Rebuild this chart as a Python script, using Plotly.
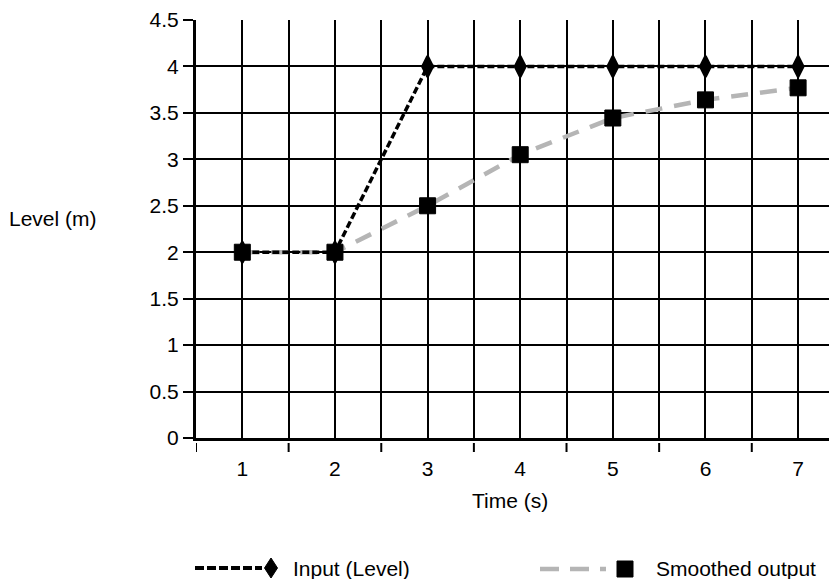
import plotly.graph_objects as go

time_s = [1, 2, 3, 4, 5, 6, 7]
input_level = [2, 2, 4, 4, 4, 4, 4]
smoothed_output = [2, 2, 2.5, 3.05, 3.445, 3.64, 3.77]
y_ticks = [0, 0.5, 1, 1.5, 2, 2.5, 3, 3.5, 4, 4.5]
y_tick_labels = ["0", "0.5", "1", "1.5", "2", "2.5", "3", "3.5", "4", "4.5"]
boundaries = [t - 0.5 for t in time_s]

FONT = "Liberation Sans, Arial, sans-serif"
FS = 21
GREY = "#b5b5b5"

fig = go.Figure()
fig.add_trace(go.Scatter(x=time_s, y=smoothed_output, mode="lines",
                         line=dict(color=GREY, width=4.5, dash="17px,12px"),
                         showlegend=False, hoverinfo="skip"))
fig.add_trace(go.Scatter(x=time_s, y=input_level, mode="lines+markers", name="Input (Level)",
                         line=dict(color="black", width=3.5, dash="7px,3px"),
                         marker=dict(symbol="diamond-tall", size=15, color="black",
                                     line=dict(color="black", width=2.5)),
                         showlegend=False))
fig.add_trace(go.Scatter(x=time_s, y=smoothed_output, mode="markers", name="Smoothed output",
                         marker=dict(symbol="square", size=16, color="black",
                                     line=dict(color="black", width=1)),
                         showlegend=False))

# screen-pixel helpers (page body has an 8px margin)
OFF = 8
L, T, W, H = 196, 20, 641, 418
def px(x):
    return (x - L) / W
def py(y):
    return (T + H - y) / H

shapes = []
ann = []
# detached x tick marks at category boundaries
for b in boundaries:
    shapes.append(dict(type="line", xref="x", yref="paper", x0=b, x1=b, y0=py(443), y1=py(452),
                       line=dict(color="black", width=2)))
# legend entry 1
ly = py(568)
shapes.append(dict(type="line", xref="paper", yref="paper", x0=px(195), x1=px(262), y0=ly, y1=ly,
                   line=dict(color="black", width=4, dash="9px,3px")))
shapes.append(dict(type="path", xref="paper", yref="paper", xsizemode="pixel", ysizemode="pixel",
                   xanchor=px(271), yanchor=ly, path="M 0 10 L 6.5 0 L 0 -10 L -6.5 0 Z",
                   fillcolor="black", line=dict(color="black", width=1)))
ann.append(dict(text="Input (Level)", x=px(291), y=ly, xref="paper", yref="paper",
                xanchor="left", yanchor="middle", showarrow=False, font=dict(size=FS, color="black")))
# legend entry 2
ly2 = py(569)
shapes.append(dict(type="line", xref="paper", yref="paper", x0=px(540), x1=px(606), y0=ly2, y1=ly2,
                   line=dict(color=GREY, width=4.5, dash="19px,11px")))
shapes.append(dict(type="path", xref="paper", yref="paper", xsizemode="pixel", ysizemode="pixel",
                   xanchor=px(625), yanchor=ly2, path="M -8 8 L 8 8 L 8 -8 L -8 -8 Z",
                   fillcolor="black", line=dict(color="black", width=1)))
ann.append(dict(text="Smoothed output", x=px(654), y=ly, xref="paper", yref="paper",
                xanchor="left", yanchor="middle", showarrow=False, font=dict(size=FS, color="black")))
# axis titles
ann.append(dict(text="Level (m)", x=px(99), y=py(218), xref="paper", yref="paper",
                xanchor="right", yanchor="middle", showarrow=False, font=dict(size=FS, color="black")))
ann.append(dict(text="Time (s)", x=px(510), y=py(500), xref="paper", yref="paper",
                xanchor="center", yanchor="middle", showarrow=False, font=dict(size=FS, color="black")))

FIG_W, FIG_H = 837 - OFF, 579 - OFF
fig.update_layout(
    width=FIG_W, height=FIG_H,
    margin=dict(l=L - OFF, r=FIG_W - (L - OFF) - W, t=T - OFF, b=FIG_H - (T - OFF) - H, pad=0),
    paper_bgcolor="white", plot_bgcolor="white",
    font=dict(family=FONT, size=FS, color="black"),
    showlegend=False,
    shapes=shapes, annotations=ann,
    xaxis=dict(range=[0.5, 7.42], tickmode="array", tickvals=time_s,
               ticktext=[str(t) for t in time_s], ticks="", ticklabelstandoff=10,
               showgrid=True, gridcolor="black", gridwidth=2,
               showline=True, linecolor="black", linewidth=3, zeroline=False,
               minor=dict(tickmode="linear", tick0=0.5, dtick=1, ticks="",
                          showgrid=True, gridcolor="black", gridwidth=2),
               fixedrange=True),
    yaxis=dict(range=[0, 4.5], tickmode="array", tickvals=y_ticks, ticktext=y_tick_labels,
               ticks="outside", ticklen=10, tickwidth=1.5, tickcolor="black",
               showgrid=True, gridcolor="black", gridwidth=2,
               showline=True, linecolor="black", linewidth=3, zeroline=False,
               fixedrange=True),
)

fig.write_html("out.html")
